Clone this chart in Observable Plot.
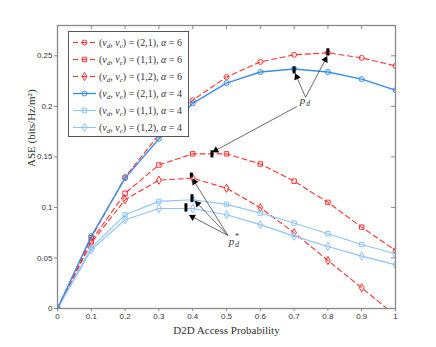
<!DOCTYPE html>
<html>
<head>
<meta charset="utf-8">
<script src="https://cdn.jsdelivr.net/npm/d3@7"></script>
<script src="https://cdn.jsdelivr.net/npm/@observablehq/plot@0.6"></script>
<style>
  html, body { margin: 0; padding: 0; background: #fff; }
  #wrap { position: relative; width: 436px; height: 347px; }
  #legend { position: absolute; left: 68px; top: 31px; width: 119px; height: 104px;
            border: 1px solid #555; background: #fff; box-sizing: content-box;
            font-family: "Liberation Serif", "DejaVu Serif", serif; font-size: 10px; color: #333; }
  .row { position: absolute; left: 0; height: 17px; display: flex; align-items: center; white-space: nowrap; }
  .row svg { flex: none; }
  .row span { margin-left: 2px; }
  sub { font-size: 7px; vertical-align: -2px; line-height: 0; }
</style>
</head>
<body>
<div id="wrap"></div>
<script>
// ---- data ----
const xs = [0, 0.1, 0.2, 0.3, 0.4, 0.5, 0.6, 0.7, 0.8, 0.9, 1];
const redCircle   = [0, 0.070, 0.130, 0.172, 0.206, 0.229, 0.244, 0.251, 0.253, 0.248, 0.240];
const redSquare   = [0, 0.067, 0.114, 0.142, 0.153, 0.153, 0.143, 0.126, 0.105, 0.0805, 0.0574];
const redDiamond  = [0, 0.065, 0.1076, 0.127, 0.129, 0.119, 0.0997, 0.075, 0.0475, 0.0205, -0.007];
const blueCircle  = [0, 0.0716, 0.129, 0.168, 0.203, 0.223, 0.234, 0.237, 0.234, 0.227, 0.216];
const blueSquare  = [0, 0.060, 0.0927, 0.106, 0.1076, 0.103, 0.0944, 0.0845, 0.074, 0.0634, 0.054];
const blueDiamond = [0, 0.058, 0.0878, 0.099, 0.099, 0.0927, 0.083, 0.0716, 0.0614, 0.0518, 0.0433];

const seriesNames = ["(2,1)|6", "(1,1)|6", "(1,2)|6", "(2,1)|4", "(1,1)|4", "(1,2)|4"];
const seriesValues = [redCircle, redSquare, redDiamond, blueCircle, blueSquare, blueDiamond];
const seriesSymbols = ["circle", "square", "diamond", "circle", "square", "diamond"];
const seriesColors = ["#ff3030", "#ff3030", "#ff3030", "#3a8ee6", "#8cc4fa", "#8cc4fa"];
const seriesWidths = [1.1, 1.1, 1.1, 1.4, 1.1, 1.1];
const seriesDash = ["5,3.5", "5,3.5", "5,3.5", null, null, null];

const xTicks = [0, 0.1, 0.2, 0.3, 0.4, 0.5, 0.6, 0.7, 0.8, 0.9, 1];
const xTickLabels = ["0", "0.1", "0.2", "0.3", "0.4", "0.5", "0.6", "0.7", "0.8", "0.9", "1"];
const yTicks = [0, 0.05, 0.1, 0.15, 0.2, 0.25];
const yTickLabels = ["0", "0.05", "0.1", "0.15", "0.2", "0.25"];

// annotation: optimum bars and arrows (data units)
const barX  = [0.8, 0.7, 0.457, 0.396, 0.398, 0.380];
const barY1 = [0.250, 0.232, 0.149, 0.129, 0.105, 0.0954];
const barY2 = [0.257, 0.239, 0.156, 0.134, 0.1126, 0.1036];
const arrX1 = [0.734, 0.734, 0.709, 0.504, 0.504, 0.504];
const arrY1 = [0.209, 0.209, 0.200, 0.0723, 0.0723, 0.0723];
const arrX2 = [0.797, 0.704, 0.460, 0.400, 0.408, 0.391];
const arrY2 = [0.249, 0.232, 0.155, 0.128, 0.106, 0.092];
const labelX = [0.725, 0.515];
const labelY = [0.206, 0.0663];

// ---- build ----
const rows = [];
seriesValues.forEach((vals, i) => vals.forEach((v, j) => rows.push({s: i, x: xs[j], y: v})));
const bars = barX.map((x, i) => ({x, y1: barY1[i], y2: barY2[i]}));

const W = 436, H = 347, mL = 57, mR = 41, mT = 25, mB = 39;
const plotW = W - mL - mR, plotH = H - mT - mB;
const kx = plotW / 1, ky = plotH / 0.28; // px per data unit (for arrowhead orientation)
const arrows = arrX1.map((x1, i) => {
  const x2 = arrX2[i], y2 = arrY2[i];
  const dxp = (x2 - x1) * kx, dyp = -(y2 - arrY1[i]) * ky;
  const len = Math.hypot(dxp, dyp);
  const ux = dxp / len, uy = dyp / len;
  const back = 3.2;
  return {x1, y1: arrY1[i], x2, y2,
    hx: x2 - ux * back / kx, hy: y2 + uy * back / ky,
    angle: Math.atan2(ux, -uy) * 180 / Math.PI};
});
const labels = labelX.map((x, i) => ({x, y: labelY[i]}));
const serif = "Liberation Serif, DejaVu Serif, serif";

const marks = [];
[0, 1, 2, 4, 5, 3].forEach(i => {
  const d = rows.filter(r => r.s === i);
  marks.push(Plot.line(d, {x: "x", y: "y", stroke: seriesColors[i], strokeWidth: seriesWidths[i],
    strokeDasharray: seriesDash[i] || undefined, clip: true}));
  marks.push(Plot.dot(d, {x: "x", y: "y", symbol: () => seriesSymbols[i], r: 2.5, stroke: seriesColors[i],
    strokeWidth: 1, fill: "none", clip: true}));
});

marks.push(
  Plot.ruleX(bars, {x: "x", y1: "y1", y2: "y2", stroke: "black", strokeWidth: 3}),
  Plot.link(arrows, {x1: "x1", y1: "y1", x2: "hx", y2: "hy", stroke: "#444", strokeWidth: 0.8}),
  Plot.dot(arrows, {x: "hx", y: "hy", symbol: "triangle", r: 2.6, fill: "black", stroke: "none", rotate: "angle"}),
  Plot.text(labels, {x: "x", y: "y", text: () => "p", fontFamily: serif, fontStyle: "italic", fontSize: 11, fill: "#333"}),
  Plot.text(labels, {x: "x", y: "y", text: () => "d", dx: 5.5, dy: 3, fontFamily: serif, fontStyle: "italic", fontSize: 7.5, fill: "#333"}),
  Plot.text(labels.slice(1), {x: "x", y: "y", text: () => "*", dx: 5.5, dy: -5, fontFamily: serif, fontSize: 8, fill: "#333"}),
  Plot.frame({stroke: "#888", strokeWidth: 1.3}),
  Plot.axisX({ticks: xTicks, tickFormat: (d, i) => xTickLabels[i], tickSize: 3, tickPadding: 2, fontSize: 8, stroke: "#888", label: null}),
  Plot.axisY({ticks: yTicks, tickFormat: (d, i) => yTickLabels[i], tickSize: 3, tickPadding: 2, fontSize: 8, stroke: "#888", label: null}),
  Plot.ruleX(xTicks, {x: d => d, insetBottom: plotH - 4, stroke: "#888"}),
  Plot.ruleY(yTicks, {y: d => d, insetLeft: plotW - 4, stroke: "#888"}),
  Plot.text(["D2D Access Probability"], {frameAnchor: "bottom", dy: 25, fontFamily: serif, fontSize: 11, fill: "#333"}),
  Plot.text(["ASE (bits/Hz/m²)"], {frameAnchor: "left", dx: -26, rotate: -90, fontFamily: serif, fontSize: 11, fill: "#333"})
);

const chart = Plot.plot({
  width: W, height: H, marginLeft: mL, marginRight: mR, marginTop: mT, marginBottom: mB,
  style: {fontFamily: "Liberation Sans, Arial, sans-serif", color: "#333", background: "#fff"},
  x: {domain: [0, 1]},
  y: {domain: [0, 0.28]},
  marks
});
const wrap = document.getElementById("wrap");
wrap.appendChild(chart);

// legend
const leg = document.createElement("div");
leg.id = "legend";
const rowTops = [2, 19, 36, 53, 70, 87];
const symTypes = {circle: d3.symbolCircle, square: d3.symbolSquare, diamond: d3.symbolDiamond};
seriesNames.forEach((name, i) => {
  const [pair, alpha] = name.split("|");
  const row = document.createElement("div");
  row.className = "row";
  row.style.top = rowTops[i] + "px";
  const sym = d3.symbol(symTypes[seriesSymbols[i]], 2.5 * 2.5 * Math.PI)();
  row.innerHTML = `<svg width="28" height="17"><line x1="4" x2="27" y1="8.5" y2="8.5" stroke="${seriesColors[i]}" stroke-width="${seriesWidths[i]}" ${seriesDash[i] ? `stroke-dasharray="${seriesDash[i]}"` : ""}/><path transform="translate(15.5,8.5)" d="${sym}" fill="none" stroke="${seriesColors[i]}"/></svg>` +
    `<span>(<i>ν</i><sub><i>d</i></sub>, <i>ν</i><sub><i>c</i></sub>) = ${pair}, <i>α</i> = ${alpha}</span>`;
  leg.appendChild(row);
});
wrap.appendChild(leg);
</script>
</body>
</html>
